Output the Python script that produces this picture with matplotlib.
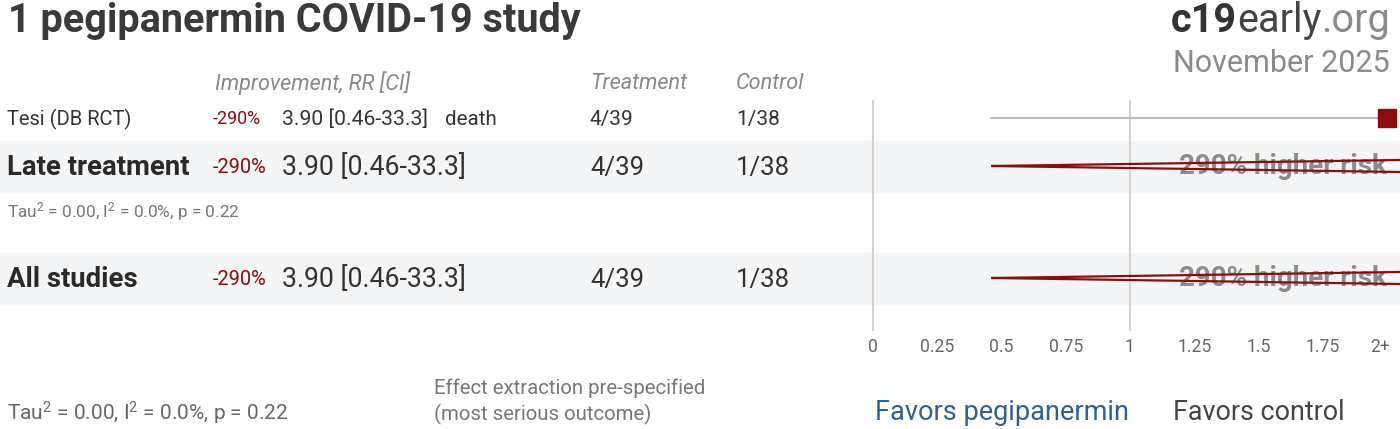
import matplotlib
matplotlib.use("Agg")
import matplotlib.pyplot as plt
from matplotlib.patches import Polygon

plt.rcParams["font.family"] = ["Roboto", "DejaVu Sans"]
plt.rcParams["mathtext.default"] = "regular"

# data
study_names = ["Tesi (DB RCT)"]
study_rr = [3.90]
study_lo = [0.46]
study_hi = [33.3]
study_outcome = ["death"]
study_treat = ["4/39"]
study_ctrl = ["1/38"]
improvement = ["-290%"]
pooled_names = ["Late treatment", "All studies"]
pooled_rr = [3.90, 3.90]
pooled_lo = [0.46, 0.46]
pooled_hi = [33.3, 33.3]
pooled_treat = ["4/39", "4/39"]
pooled_ctrl = ["1/38", "1/38"]
pooled_impr = ["-290%", "-290%"]
tick_vals = [0, 0.25, 0.5, 0.75, 1, 1.25, 1.5, 1.75, 2]
tick_labels = ["0", "0.25", "0.5", "0.75", "1", "1.25", "1.5", "1.75", "2+"]
heterogeneity = "Tau$^2$ = 0.00, I$^2$ = 0.0%, p = 0.22"
drug = "pegipanermin"

W, H = 1400, 429
fig = plt.figure(figsize=(W / 100, H / 100), dpi=100)
ax = fig.add_axes([0, 0, 1, 1])
# x: 0 at px 873, 1 at px 1130
x0, unit = 873, 257
ax.set_xlim(-x0 / unit, (W - x0) / unit)
ax.set_ylim(H, 0)
ax.axis("off")


def ft(x, y, s, **kw):
    fig.text(x / W, 1 - (y + 1.5) / H, s, va="center", **kw)


dark = "#333333"
grey = "#888888"
red = "#8b0d0d"
xmax = 2.0

# title / branding
ft(8, 20, f"1 {drug} COVID-19 study", fontsize=28.5, fontweight="bold", color="#3a3a3a")
t1 = fig.text(1390 / W, 1 - 21 / H, ".org", fontsize=28.5, color="#8a8a8a", ha="right", va="center")
fig.canvas.draw()
r = fig.canvas.get_renderer()
bb = t1.get_window_extent(r)
t2 = fig.text(bb.x0 / W, 1 - 21 / H, "early", fontsize=28.5, color="#444444", ha="right", va="center")
bb = t2.get_window_extent(r)
fig.text(bb.x0 / W, 1 - 21 / H, "c19", fontsize=28.5, fontweight="bold", color="#333333", ha="right", va="center")
ft(1390, 62, "November 2025", fontsize=22, color="#8a8a8a", ha="right")

# header
ft(215, 82, "Improvement, RR [CI]", fontsize=15.6, color=grey, style="italic")
ft(590, 82, "Treatment", fontsize=15.6, color=grey, style="italic")
ft(736, 82, "Control", fontsize=15.6, color=grey, style="italic")

# study rows
study_y = [118]
for i, y in enumerate(study_y):
    ft(7, y, study_names[i], fontsize=14.5, color=dark)
    ft(213, y, improvement[i], fontsize=12.9, color=red)
    ft(282, y, f"{study_rr[i]:.2f} [{study_lo[i]:.2f}-{study_hi[i]:.1f}]", fontsize=15.2, color=dark)
    ft(445, y, study_outcome[i], fontsize=14.8, color=dark)
    ft(590, y, study_treat[i], fontsize=15, color=dark)
    ft(736, y, study_ctrl[i], fontsize=15, color=dark)
    ax.plot([study_lo[i], min(study_hi[i], xmax)], [y, y], color="#bbbbbb", lw=1.5, zorder=2)
    ax.plot([min(study_rr[i], xmax)], [y], marker="s", ms=13, color=red, zorder=3)

# pooled rows
pooled_y = [166, 278]
for i, y in enumerate(pooled_y):
    ax.axhspan(y - 25, y + 26, color="#f4f5f7", zorder=0)
    ft(7, y, pooled_names[i], fontsize=19.8, fontweight="bold", color="#2a2a2a")
    ft(213, y, pooled_impr[i], fontsize=14.4, color=red)
    ft(282, y, f"{pooled_rr[i]:.2f} [{pooled_lo[i]:.2f}-{pooled_hi[i]:.1f}]", fontsize=19.2, color=dark)
    ft(590, y, pooled_treat[i], fontsize=18.5, color=dark)
    ft(736, y, pooled_ctrl[i], fontsize=18.5, color=dark)
    pct = round((pooled_rr[i] - 1) * 100)
    ax.text(2.0, y + 1, f"{pct}% higher risk", fontsize=20, fontweight="bold", color="#8c8c8c",
            va="center", ha="right", zorder=3)
    dia = Polygon([(pooled_lo[i], y), (pooled_rr[i], y - 13), (pooled_hi[i], y), (pooled_rr[i], y + 13)],
                  closed=True, facecolor="none", edgecolor=red, lw=1.6, zorder=4)
    ax.add_patch(dia)

ft(7, 210, heterogeneity, fontsize=12.4, color="#777777")

# reference lines and ticks
ax.plot([0, 0], [101, 330], color="#d4d4d4", lw=1.5, zorder=1)
ax.plot([1, 1], [101, 330], color="#d4d4d4", lw=1.5, zorder=1)
for v, lab in zip(tick_vals, tick_labels):
    ax.text(v if v < 2 else 1.975, 347, lab, fontsize=12.7, color="#666666", ha="center", va="center")

# footer
ft(7, 412, heterogeneity, fontsize=15, color="#666666")
ft(434, 387, "Effect extraction pre-specified", fontsize=14.7, color="#777777")
ft(434, 413, "(most serious outcome)", fontsize=14.7, color="#777777")
ft(875, 411, f"Favors {drug}", fontsize=19.5, color="#2f5f95")
ft(1173, 411, "Favors control", fontsize=19.4, color="#444444")

fig.savefig("out.png", dpi=100)
